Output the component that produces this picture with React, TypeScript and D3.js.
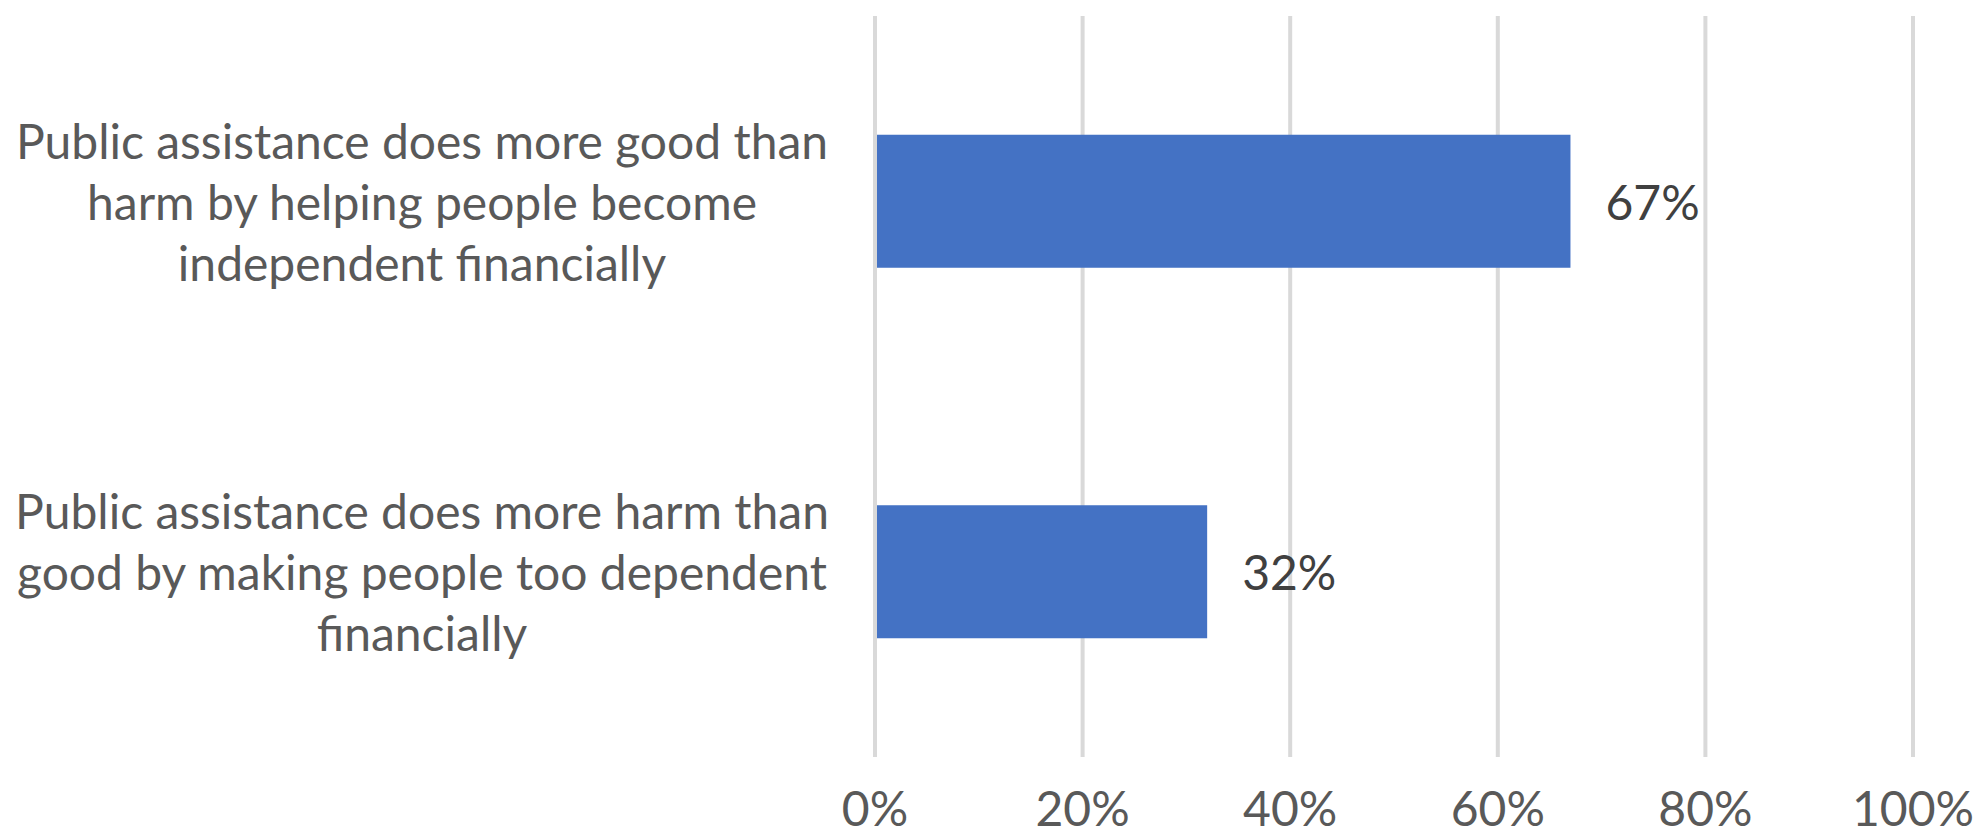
import React from "react";
import * as d3 from "d3";

const categories: string[][] = [
  ["Public assistance does more good than", "harm by helping people become", "independent financially"],
  ["Public assistance does more harm than", "good by making people too dependent", "financially"],
];
const values: number[] = [0.67, 0.32];
const tickValues: number[] = [0, 0.2, 0.4, 0.6, 0.8, 1.0];

const W = 1978;
const H = 839;
const FONT = "Lato, 'Open Sans', sans-serif";

export default function App() {
  const x = d3.scaleLinear().domain([0, 1]).range([875, 1913]);
  const y = d3
    .scaleBand<number>()
    .domain(values.map((_, i) => i))
    .range([16, 757])
    .paddingInner(0.641)
    .paddingOuter(0.3205);
  const fmt = d3.format(".0%");
  const lineH = 61;
  return (
    <svg
      width={W}
      height={H}
      style={{ position: "absolute", left: 0, top: 0, display: "block", background: "#fff" }}
    >
      <g>
        {tickValues.map((t) => (
          <line
            key={"g" + t}
            x1={x(t)}
            x2={x(t)}
            y1={16}
            y2={757}
            stroke="#D9D9D9"
            strokeWidth={4}
          />
        ))}
      </g>
      <g>
        {values.map((v, i) => (
          <rect
            key={"b" + i}
            x={x(0) + 2}
            y={y(i)!}
            width={x(v) - x(0) - 2}
            height={y.bandwidth()}
            fill="#4472C4"
          />
        ))}
      </g>
      <g>
        {values.map((v, i) => (
          <text
            key={"v" + i}
            x={x(v) + 35}
            y={y(i)! + y.bandwidth() / 2}
            dominantBaseline="central"
            fontFamily={FONT}
            fontSize={48}
            fill="#404040"
          >
            {fmt(v)}
          </text>
        ))}
      </g>
      <g>
        {categories.map((lines, i) => {
          const cy = y(i)! + y.bandwidth() / 2;
          return (
            <text
              key={"c" + i}
              textAnchor="middle"
              fontFamily={FONT}
              fontSize={48}
              fill="#595959"
            >
              {lines.map((ln, j) => (
                <tspan
                  key={j}
                  x={422}
                  y={cy + (j - (lines.length - 1) / 2) * lineH}
                  dominantBaseline="central"
                >
                  {ln}
                </tspan>
              ))}
            </text>
          );
        })}
      </g>
      <g>
        {tickValues.map((t) => (
          <text
            key={"t" + t}
            x={x(t)}
            y={807}
            textAnchor="middle"
            dominantBaseline="central"
            fontFamily={FONT}
            fontSize={48}
            fill="#595959"
          >
            {fmt(t)}
          </text>
        ))}
      </g>
    </svg>
  );
}
